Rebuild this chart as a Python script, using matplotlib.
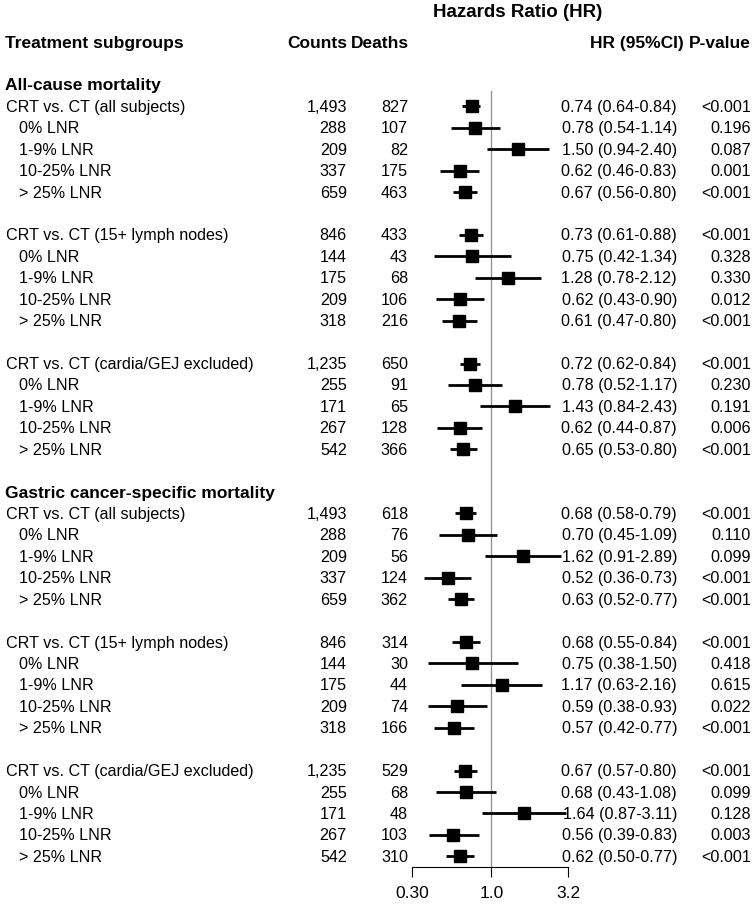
import matplotlib
matplotlib.use("Agg")
from matplotlib import pyplot as plt
from matplotlib import transforms

plt.rcParams["font.family"] = ["Liberation Sans", "DejaVu Sans"]

outcomes = ["All-cause mortality", "Gastric cancer-specific mortality"]
cohorts = [
    "CRT vs. CT (all subjects)",
    "CRT vs. CT (15+ lymph nodes)",
    "CRT vs. CT (cardia/GEJ excluded)",
]
lnr_groups = ["0% LNR", "1-9% LNR", "10-25% LNR", "> 25% LNR"]

counts = [
    "1,493", "288", "209", "337", "659",
    "846", "144", "175", "209", "318",
    "1,235", "255", "171", "267", "542",
    "1,493", "288", "209", "337", "659",
    "846", "144", "175", "209", "318",
    "1,235", "255", "171", "267", "542",
]
deaths = [
    "827", "107", "82", "175", "463",
    "433", "43", "68", "106", "216",
    "650", "91", "65", "128", "366",
    "618", "76", "56", "124", "362",
    "314", "30", "44", "74", "166",
    "529", "68", "48", "103", "310",
]
hr = [
    0.74, 0.78, 1.50, 0.62, 0.67,
    0.73, 0.75, 1.28, 0.62, 0.61,
    0.72, 0.78, 1.43, 0.62, 0.65,
    0.68, 0.70, 1.62, 0.52, 0.63,
    0.68, 0.75, 1.17, 0.59, 0.57,
    0.67, 0.68, 1.64, 0.56, 0.62,
]
ci_low = [
    0.64, 0.54, 0.94, 0.46, 0.56,
    0.61, 0.42, 0.78, 0.43, 0.47,
    0.62, 0.52, 0.84, 0.44, 0.53,
    0.58, 0.45, 0.91, 0.36, 0.52,
    0.55, 0.38, 0.63, 0.38, 0.42,
    0.57, 0.43, 0.87, 0.39, 0.50,
]
ci_high = [
    0.84, 1.14, 2.40, 0.83, 0.80,
    0.88, 1.34, 2.12, 0.90, 0.80,
    0.84, 1.17, 2.43, 0.87, 0.80,
    0.79, 1.09, 2.89, 0.73, 0.77,
    0.84, 1.50, 2.16, 0.93, 0.77,
    0.80, 1.08, 3.11, 0.83, 0.77,
]
p_values = [
    "<0.001", "0.196", "0.087", "0.001", "<0.001",
    "<0.001", "0.328", "0.330", "0.012", "<0.001",
    "<0.001", "0.230", "0.191", "0.006", "<0.001",
    "<0.001", "0.110", "0.099", "<0.001", "<0.001",
    "<0.001", "0.418", "0.615", "0.022", "<0.001",
    "<0.001", "0.099", "0.128", "0.003", "<0.001",
]

x_ticks = [0.3, 1.0, 3.2]
x_tick_labels = ["0.30", "1.0", "3.2"]

# row layout: outcome header, then each cohort block of 5 rows + a blank row
row_y, row_label, row_indent, header_y = [], [], [], []
y = 0
for outcome in outcomes:
    header_y.append(y)
    y += 1
    for cohort in cohorts:
        for j, name in enumerate([cohort] + lnr_groups):
            row_y.append(y)
            row_label.append(name)
            row_indent.append(j > 0)
            y += 1
        y += 1

W, H = 756, 912
fig = plt.figure(figsize=(W / 100, H / 100), dpi=100)
ax = fig.add_axes([412 / W, (H - 868) / H, 156 / W, (868 - 92.4) / H])

ax.axvline(1.0, color="#8c959c", linewidth=1, zorder=0)
ax.hlines(row_y, ci_low, ci_high, color="black", linewidth=2)
ax.plot(hr, row_y, "s", color="black", markersize=9, linestyle="none")

ax.set_xscale("log")
ax.set_xlim(0.3, 3.2)
ax.set_ylim(36.5, 0.3)
ax.set_xticks(x_ticks)
ax.set_xticklabels(x_tick_labels)
ax.minorticks_off()
ax.set_yticks([])
for side in ["left", "right", "top"]:
    ax.spines[side].set_visible(False)
ax.spines["bottom"].set_linewidth(0.8)
ax.tick_params(axis="x", direction="out", length=7, width=0.8,
               labelsize=12.5, pad=6)

trans = transforms.blended_transform_factory(fig.transFigure, ax.transData)
fs = 11.6
hfs = 12.5


def put(x_px, yy, s, ha="left", **kw):
    ax.text(x_px / W, yy, s, transform=trans, ha=ha, va="center",
            clip_on=False, **kw)


for i, yy in enumerate(row_y):
    put(19 if row_indent[i] else 6, yy, row_label[i], fontsize=fs)
    put(347, yy, counts[i], ha="right", fontsize=fs)
    put(408, yy, deaths[i], ha="right", fontsize=fs)
    put(677, yy, f"{hr[i]:.2f} ({ci_low[i]:.2f}-{ci_high[i]:.2f})",
        ha="right", fontsize=fs)
    put(751, yy, p_values[i], ha="right", fontsize=fs)

for outcome, yy in zip(outcomes, header_y):
    put(5, yy, outcome, fontsize=hfs, fontweight="bold")

put(5, -2.0, "Treatment subgroups", fontsize=hfs, fontweight="bold")
put(347, -2.0, "Counts", ha="right", fontsize=hfs, fontweight="bold")
put(409, -2.0, "Deaths", ha="right", fontsize=hfs, fontweight="bold")
put(684, -2.0, "HR (95%CI)", ha="right", fontsize=hfs, fontweight="bold")
put(751, -2.0, "P-value", ha="right", fontsize=hfs, fontweight="bold")
put(518, -3.41, "Hazards Ratio (HR)", ha="center", fontsize=13.5,
    fontweight="bold")

fig.savefig("out.png", dpi=100)
plt.close(fig)
